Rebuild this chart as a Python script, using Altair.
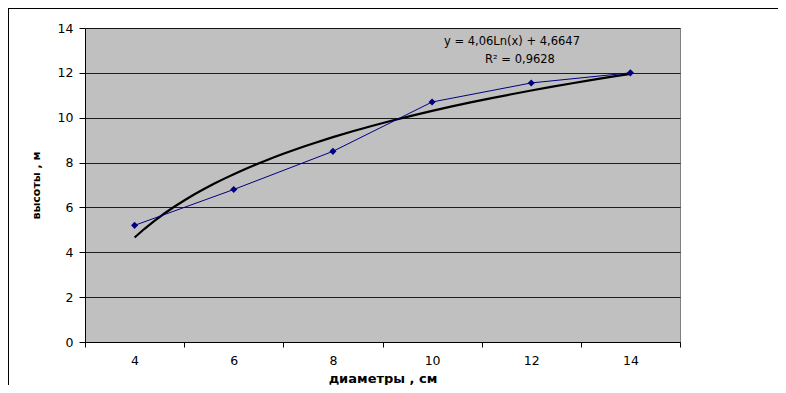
import altair as alt
import pandas as pd

diameters = [4, 6, 8, 10, 12, 14]
heights = [5.2, 6.8, 8.5, 10.7, 11.55, 12.0]
eq_line1 = "y = 4,06Ln(x) + 4,6647"
eq_line2 = "R² = 0,9628"
x_title = "диаметры , см"
y_title = "высоты , м"

df = pd.DataFrame({
    "idx": list(range(1, len(diameters) + 1)),
    "d": diameters,
    "h": heights,
})

FONT = "DejaVu Sans"
W, H = 595, 314
half_band = W / len(diameters) / 2

x_enc = alt.X(
    "idx:Q",
    scale=alt.Scale(domain=[0.5, len(diameters) + 0.5], nice=False, zero=False),
    axis=alt.Axis(
        values=[i + 0.5 for i in range(len(diameters) + 1)],
        labelExpr="datum.value < 6 ? format(2 * datum.value + 3, 'd') : ''",
        labelOffset=half_band,
        labelFlush=False,
        labelOverlap=False,
        grid=False,
        tickSize=5,
        tickColor="black",
        domainColor="black",
        labelPadding=7,
        labelFont=FONT,
        labelFontSize=12.5,
        labelColor="black",
        title=x_title,
        titleFont=FONT,
        titleFontSize=13,
        titleFontWeight="bold",
        titleColor="black",
        titleBaseline="alphabetic",
        titleY=40,
    ),
)

y_enc = alt.Y(
    "h:Q",
    scale=alt.Scale(domain=[0, 14], nice=False),
    axis=alt.Axis(
        values=[0, 2, 4, 6, 8, 10, 12, 14],
        grid=True,
        gridColor="black",
        gridWidth=1,
        gridOpacity=0.85,
        tickSize=6,
        tickColor="black",
        domainColor="black",
        labelPadding=6,
        labelFont=FONT,
        labelFontSize=12.5,
        labelColor="black",
        title=y_title,
        titleFont=FONT,
        titleFontSize=11,
        titleFontWeight="bold",
        titleColor="black",
        titleAngle=270,
        titleBaseline="middle",
        titleAlign="center",
        titleX=-49,
        titleY=H / 2,
    ),
)

base = alt.Chart(df)

series_line = base.mark_line(color="#000080", strokeWidth=1).encode(x=x_enc, y=y_enc)
series_pts = base.mark_point(
    shape="diamond", filled=True, color="#000080", size=50, opacity=1
).encode(x="idx:Q", y="h:Q")

trend = base.transform_regression(
    "idx", "h", method="log", extent=[1, len(diameters)]
).mark_line(color="black", strokeWidth=2.2).encode(x="idx:Q", y="h:Q")

eq1 = alt.Chart(pd.DataFrame({"t": [eq_line1]})).mark_text(
    font=FONT, fontSize=11.5, color="black", align="center", baseline="middle"
).encode(text="t:N", x=alt.value(427), y=alt.value(14))

eq2 = alt.Chart(pd.DataFrame({"t": [eq_line2]})).mark_text(
    font=FONT, fontSize=11.5, color="black", align="center", baseline="middle"
).encode(text="t:N", x=alt.value(435), y=alt.value(32))

frame = alt.Chart(pd.DataFrame({"a": [0]})).mark_rect(
    fill=None, stroke="black", strokeWidth=2, clip=False
).encode(
    x=alt.value(-77), y=alt.value(-20), x2=alt.value(900), y2=alt.value(600)
)

chart = (
    alt.layer(trend, series_line, series_pts, eq1, eq2, frame)
    .properties(
        width=W,
        height=H,
        autosize=alt.AutoSizeParams(type="none"),
        padding={"left": 77, "top": 20, "right": 98, "bottom": 43},
    )
    .configure(background="white")
    .configure_view(fill="#C0C0C0", stroke="#808080", strokeWidth=1)
)

chart.save("out.html", embed_options={"renderer": "svg", "actions": False})
